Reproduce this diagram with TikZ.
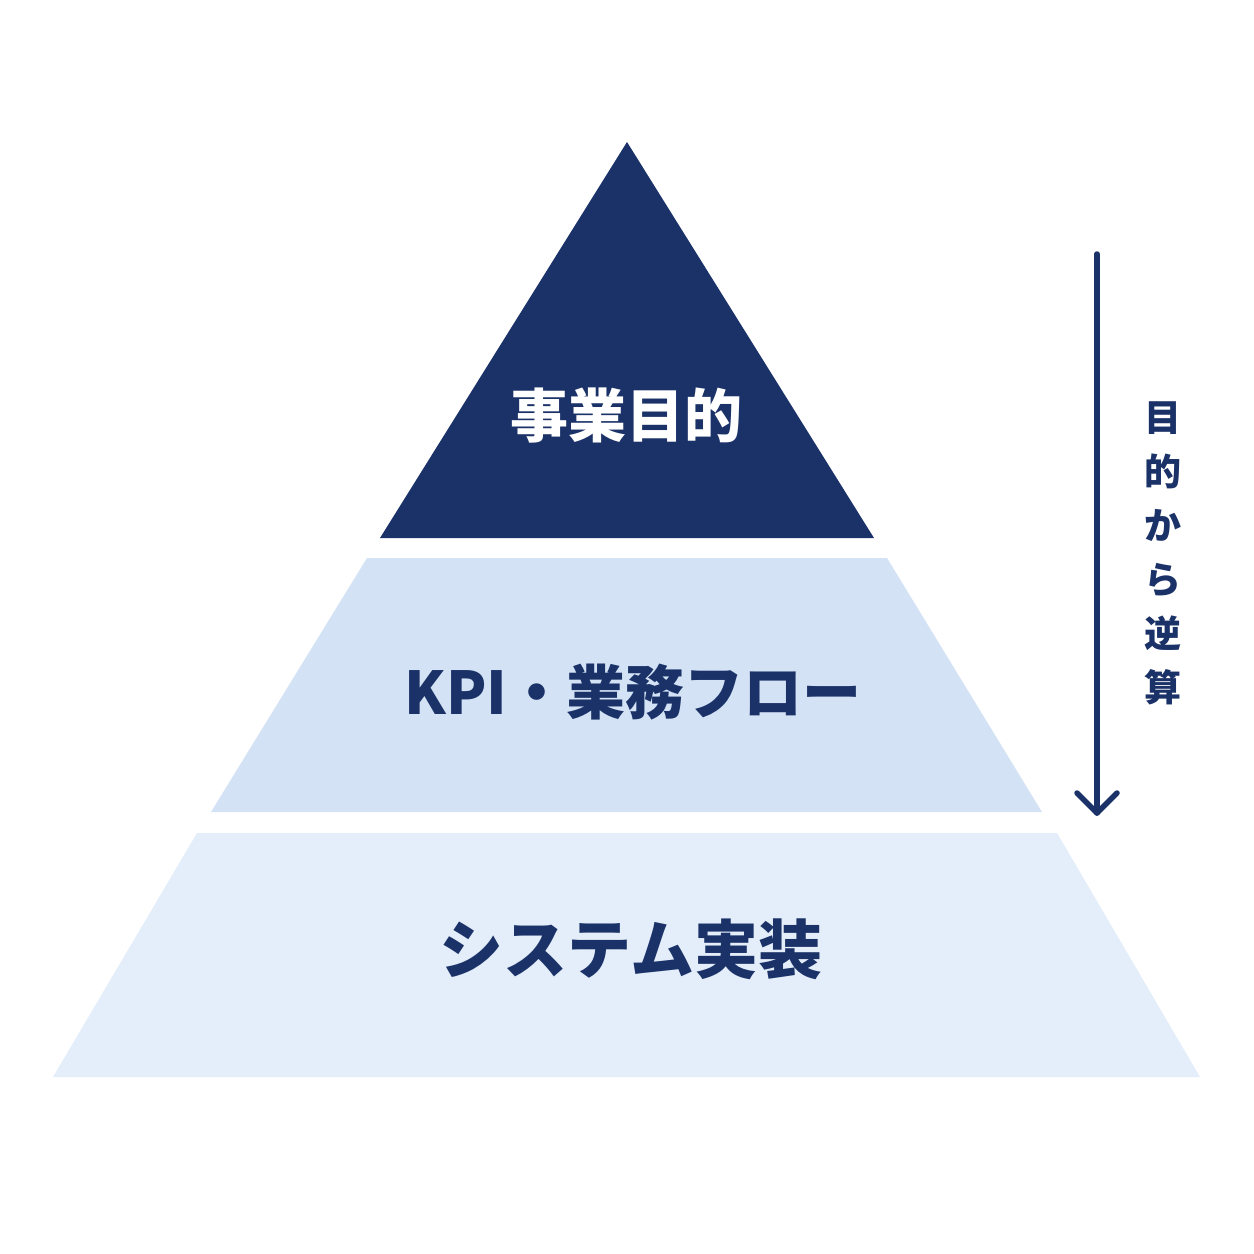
\documentclass[tikz,border=0pt]{standalone}
\usepackage{fontspec}
\usetikzlibrary{calc}
\newfontfamily\jp{Noto Sans CJK JP}
\definecolor{navy}{HTML}{1B3268}
\definecolor{midblue}{HTML}{D3E3F5}
\definecolor{lightblue}{HTML}{E4EEFA}
\begin{document}
\begin{tikzpicture}[x=1pt,y=-1pt,
  tierlabel/.style={font=\jp\bfseries, inner sep=0pt},
  sidelabel/.style={font=\jp\bfseries\fontsize{37}{54}\selectfont, text=navy, align=center, inner sep=0pt},
  flowarrow/.style={draw=navy, line width=5.5pt, line cap=round, line join=round}
]
\useasboundingbox[fill=white] (0,0) rectangle (1254,1254);
% tiers
\fill[navy] (627,142) -- (874,538) -- (380,538) -- cycle;
\fill[midblue] (367,558) -- (887,558) -- (1042,812) -- (211,812) -- cycle;
\fill[lightblue] (197,833) -- (1057,833) -- (1200,1077) -- (53,1077) -- cycle;
% labels
\node[tierlabel, text=white] (top) at (626,416) {\fontsize{58}{64}\selectfont 事業目的};
\node[tierlabel, text=navy] (mid) at (633,692) {\fontsize{59}{64}\selectfont KPI・業務フロー};
\node[tierlabel, text=navy] (bot) at (631,949) {\fontsize{64}{70}\selectfont システム実装};
% arrow
\coordinate (astart) at (1097,254);
\coordinate (aend) at (1097,813);
\draw[flowarrow] (astart) -- (aend);
\draw[flowarrow] ($(aend)+(-20,-20)$) -- (aend) -- ($(aend)+(20,-20)$);
\node[sidelabel] (side) at (1163,553) {目\\的\\か\\ら\\逆\\算};
\end{tikzpicture}
\end{document}
